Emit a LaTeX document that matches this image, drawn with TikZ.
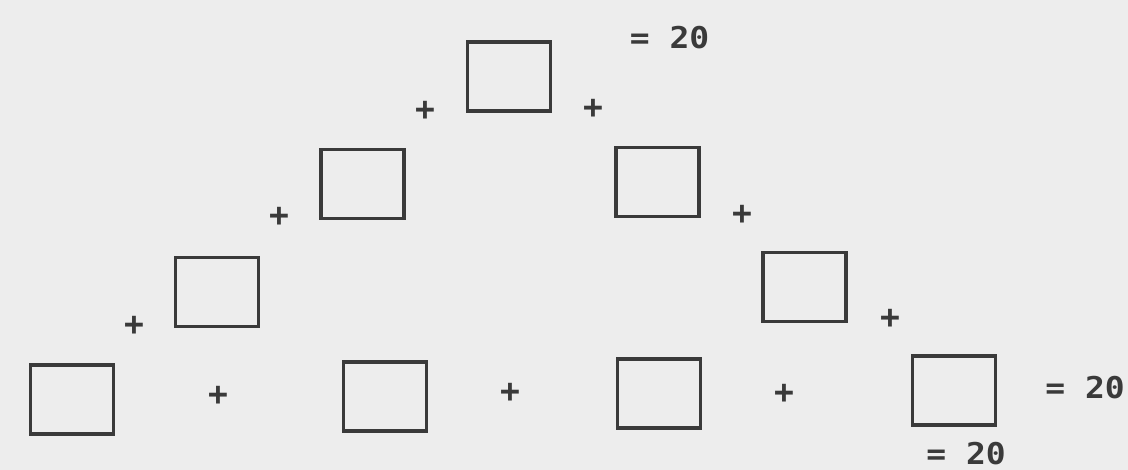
\documentclass[tikz,border=0pt]{standalone}
\usepackage{fontspec}
\usepackage{tikz}
\usetikzlibrary{positioning}
\newfontfamily\typerfont{DejaVu Sans Mono Bold}
\definecolor{paper}{RGB}{237,237,237}
\definecolor{ink}{RGB}{58,58,58}

\tikzset{
    slot/.style={draw=ink, line width=3.2pt, minimum width=83pt, minimum height=69pt, inner sep=0pt},
    plus/.style={text=ink, inner sep=0pt, font=\typerfont\fontsize{33}{33}\selectfont},
    total/.style={text=ink, inner sep=0pt, xscale=1.1, font=\typerfont\fontsize{30}{30}\selectfont}
}

\begin{document}
\begin{tikzpicture}[x=1pt, y=-1pt]
    % Page
    \fill[paper] (0,0) rectangle (1128,470);
    \clip (0,0) rectangle (1128,470);

    % Boxes, top down
    \node[slot] (top) at (509, 76.5) {};
    \node[slot] (l2)  at (362.5, 184) {};
    \node[slot] (r2)  at (657.5, 182) {};
    \node[slot] (l3)  at (217, 292) {};
    \node[slot] (r3)  at (804.5, 287) {};
    \node[slot] (b1)  at (72, 399.5) {};
    \node[slot] (b2)  at (385, 396.5) {};
    \node[slot] (b3)  at (659, 393.5) {};
    \node[slot] (b4)  at (954, 390.5) {};

    % Plus signs
    \foreach \name/\x/\y in {
        pa/425/111, pb/593/109,
        pc/279/217, pd/742/215,
        pe/134/326, pf/890/319,
        pg/218/396, ph/510/393, pi/784/394} {
        \node[plus] (\name) at (\x, \y) {+};
    }

    % Totals
    \node[total] (sumr) at (669.5, 38) {= 20};
    \node[total] (suml) at (966, 454) {= 20};
    \node[total] (sumb) at (1085, 388) {= 20};
\end{tikzpicture}
\end{document}
